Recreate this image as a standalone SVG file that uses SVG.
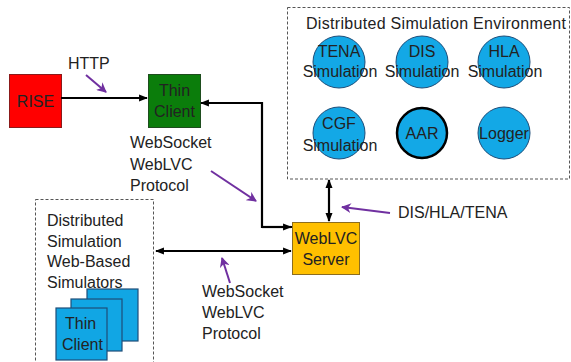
<svg xmlns="http://www.w3.org/2000/svg" width="571" height="362" viewBox="0 0 571 362">
<defs>
<style>
text{font-family:"Liberation Sans",Arial,sans-serif;font-size:16px;fill:#222}
.c{text-anchor:middle}
.dash{fill:none;stroke:#555;stroke-width:1;stroke-dasharray:3,2}
.circ{fill:#13a8e6;stroke:#1f4e79;stroke-width:1}
.conn{fill:none;stroke:#000;stroke-width:2.2}
.ptr{fill:none;stroke:#7030a0;stroke-width:2}
.tc{fill:#11a6e4;stroke:#1f4e79;stroke-width:1.2}
</style>
<marker id="ah" viewBox="0 0 10 10" refX="9" refY="5" markerWidth="4" markerHeight="4" orient="auto-start-reverse" markerUnits="strokeWidth">
<path d="M0,1 L10,5 L0,9 z" fill="#000"/>
</marker>
<marker id="pah" viewBox="0 0 10 10" refX="9" refY="5" markerWidth="5" markerHeight="5" orient="auto" markerUnits="strokeWidth">
<path d="M0,0 L10,5 L0,10 L3,5 z" fill="#7030a0"/>
</marker>
</defs>
<rect width="571" height="362" fill="#fff"/>

<g id="dse">
<rect class="dash" x="287.5" y="7.5" width="282" height="171.5"/>
<text x="306" y="29" textLength="260">Distributed Simulation Environment</text>
</g>
<g id="tena"><circle class="circ" cx="339" cy="62" r="26"/><text class="c" x="339" y="57">TENA</text><text class="c" x="340" y="77">Simulation</text></g>
<g id="dis"><circle class="circ" cx="422" cy="62" r="26"/><text class="c" x="422" y="57">DIS</text><text class="c" x="422" y="77">Simulation</text></g>
<g id="hla"><circle class="circ" cx="504" cy="62" r="26"/><text class="c" x="504" y="57">HLA</text><text class="c" x="505" y="77">Simulation</text></g>
<g id="cgf"><circle class="circ" cx="339" cy="133" r="26"/><text class="c" x="339" y="129">CGF</text><text class="c" x="340" y="151">Simulation</text></g>
<g id="aar"><circle class="circ" cx="422" cy="133" r="25" style="stroke:#000;stroke-width:2.5"/><text class="c" x="422" y="139">AAR</text></g>
<g id="logger"><circle class="circ" cx="504" cy="133" r="26"/><text class="c" x="504" y="139">Logger</text></g>

<g id="rise"><rect x="9.5" y="74.5" width="52" height="53" fill="#ff0000" stroke="#8b1a1a" stroke-width="1"/><text class="c" x="35.5" y="107">RISE</text></g>
<g id="thin-client"><rect x="148.5" y="74.5" width="52" height="53" fill="#0b7d0b" stroke="#1e4d1e" stroke-width="1"/><text class="c" x="174.5" y="96">Thin</text><text class="c" x="174.5" y="117">Client</text></g>
<g id="weblvc-server"><rect x="292.5" y="222.5" width="67" height="52" fill="#ffc000" stroke="#8c6d1f" stroke-width="1"/><text class="c" x="326" y="244">WebLVC</text><text class="c" x="326" y="265">Server</text></g>

<g id="web-sims">
<rect class="dash" x="35.5" y="199.5" width="118" height="170"/>
<text x="47" y="226">Distributed</text>
<text x="47" y="247">Simulation</text>
<text x="47" y="267">Web-Based</text>
<text x="47" y="288">Simulators</text>
<rect class="tc" x="87" y="289" width="51" height="52"/>
<rect class="tc" x="71" y="299" width="51" height="52"/>
<rect class="tc" x="56" y="308" width="51" height="52"/>
<text x="65" y="329">Thin</text>
<text x="62" y="350">Client</text>
</g>

<g id="connectors">
<line class="conn" x1="61" y1="98" x2="147" y2="98" marker-end="url(#ah)"/>
<polyline class="conn" points="292,227 262,227 262,103 201,103" marker-start="url(#ah)" marker-end="url(#ah)" style="marker-start:none"/>
<line class="conn" x1="262" y1="227" x2="291" y2="227" marker-end="url(#ah)"/>
<line class="conn" x1="156" y1="251" x2="291" y2="251" marker-start="url(#ah)" marker-end="url(#ah)"/>
<line class="conn" x1="329" y1="180" x2="329" y2="221" marker-start="url(#ah)" marker-end="url(#ah)"/>
</g>

<g id="labels">
<text x="68" y="69">HTTP</text>
<line class="ptr" x1="86" y1="75" x2="106" y2="92" marker-end="url(#pah)"/>
<text x="130" y="148">WebSocket</text>
<text x="130" y="170">WebLVC</text>
<text x="130" y="191">Protocol</text>
<line class="ptr" x1="211" y1="171" x2="256" y2="201" marker-end="url(#pah)"/>
<text x="202" y="297">WebSocket</text>
<text x="202" y="318">WebLVC</text>
<text x="202" y="339">Protocol</text>
<line class="ptr" x1="230" y1="283" x2="222" y2="258" marker-end="url(#pah)"/>
<text x="398" y="218">DIS/HLA/TENA</text>
<line class="ptr" x1="390" y1="213" x2="342" y2="207" marker-end="url(#pah)"/>
</g>
</svg>
